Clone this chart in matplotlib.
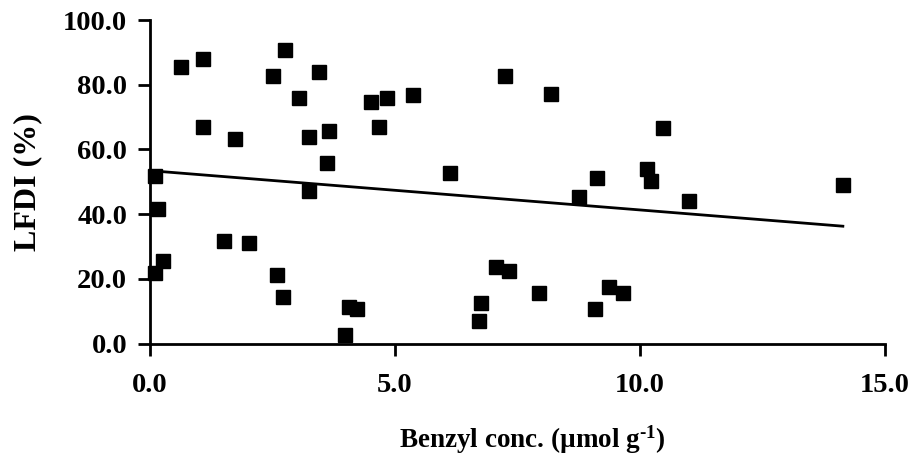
import numpy as np
import matplotlib
matplotlib.use("Agg")
import matplotlib.pyplot as plt

benzyl = [0.63, 1.08, 2.76, 2.50, 3.45, 3.04, 4.51, 4.84, 5.36, 1.08, 1.73, 3.24,
          3.65, 4.67, 3.61, 6.13, 0.10, 3.24, 0.17, 1.50, 2.02, 0.27, 0.10, 2.59,
          2.71, 4.06, 4.22, 3.98, 7.24, 8.18, 10.46, 9.12, 10.14, 10.22, 14.14,
          8.75, 10.99, 7.07, 7.33, 7.93, 6.75, 6.71, 9.37, 9.65, 9.08]
lfdi = [85.4, 87.8, 90.6, 82.8, 84.0, 76.0, 74.8, 76.0, 76.7, 66.8, 63.1, 63.8,
        65.6, 66.8, 55.8, 52.7, 51.8, 47.0, 41.6, 31.8, 31.0, 25.5, 21.8, 21.2,
        14.4, 11.3, 10.7, 2.6, 82.8, 77.2, 66.7, 51.3, 53.9, 50.1, 49.0,
        45.2, 43.9, 23.6, 22.4, 15.6, 12.6, 7.0, 17.5, 15.6, 10.7]

xticks = [0, 5, 10, 15]
yticks = [0, 20, 40, 60, 80, 100]

plt.rcParams['font.family'] = ['Liberation Serif', 'DejaVu Serif']
plt.rcParams['font.weight'] = 'bold'
plt.rcParams['mathtext.fontset'] = 'custom'
plt.rcParams['mathtext.rm'] = 'Liberation Serif:bold'
plt.rcParams['mathtext.bf'] = 'Liberation Serif:bold'
plt.rcParams['mathtext.it'] = 'Liberation Serif:bold'
plt.rcParams['mathtext.default'] = 'bf'

fig = plt.figure(figsize=(9.15, 4.61), dpi=100)
ax = fig.add_axes([150/915, 117.5/461, 735/915, 323.5/461])

x = np.array(benzyl)
y = np.array(lfdi)
ax.plot(x, y, linestyle='none', marker='s', markersize=10.5, color='black')

slope, intercept = np.polyfit(x, y, 1)
xl = np.array([x.min(), x.max()])
ax.plot(xl, slope * xl + intercept, color='black', linewidth=2.0)

ax.set_xlim(0, 15)
ax.set_ylim(0, 100)
ax.set_xticks(xticks)
ax.set_yticks(yticks)
ax.set_xticklabels([f"{v:.1f}" for v in xticks])
ax.set_yticklabels([f"{v:.1f}" for v in yticks])
for s in ['top', 'right']:
    ax.spines[s].set_visible(False)
for s in ['left', 'bottom']:
    ax.spines[s].set_linewidth(2.0)
ax.tick_params(direction='out', length=8.5, width=2.0, labelsize=20.5)
ax.tick_params(axis='x', pad=13)
ax.tick_params(axis='y', pad=8)
for lab in ax.get_xticklabels() + ax.get_yticklabels():
    lab.set_fontweight('bold')

ax.set_ylabel('LFDI (%)', fontsize=23, fontweight='bold', va='center')
ax.yaxis.set_label_coords((28 - 150) / 735, 0.5)
ax.set_xlabel(r'Benzyl conc. (µmol g$^{\text{-}1}$)', fontsize=19.5, fontweight='bold', va='center')
ax.xaxis.set_label_coords((532 - 150) / 735, (343.5 - 440) / 323.5)
for ln in ax.lines:
    ln.set_clip_on(False)

fig.savefig('out.png', dpi=100)
